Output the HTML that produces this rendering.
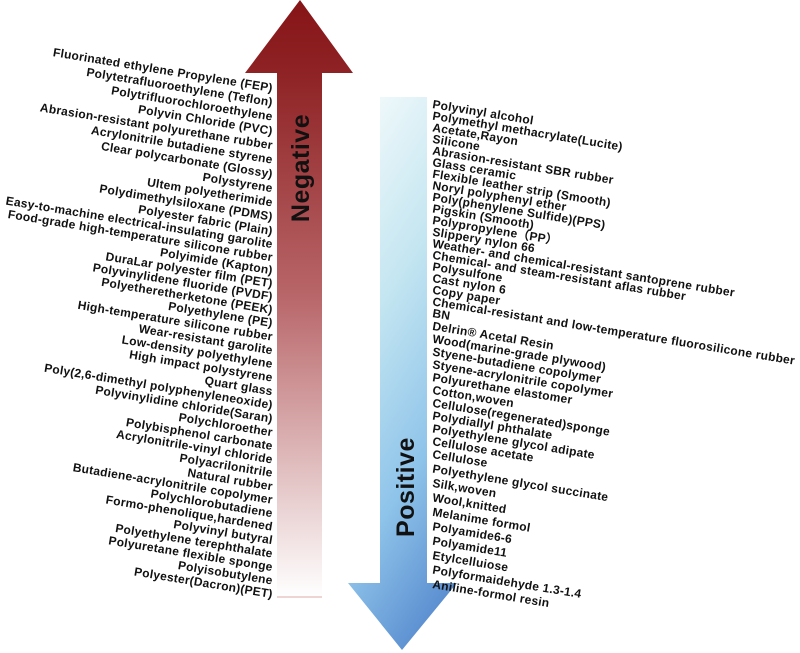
<!DOCTYPE html>
<html><head><meta charset="utf-8"><style>
html,body{margin:0;padding:0;background:#fff;width:800px;height:653px;overflow:hidden}
svg text{font-family:"Liberation Sans",Arial,sans-serif;font-weight:bold;font-size:12px;letter-spacing:0.25px;fill:#111}
</style></head><body>
<svg width="800" height="653" viewBox="0 0 800 653" xmlns="http://www.w3.org/2000/svg">
<defs>
<linearGradient id="rg" x1="0" y1="0" x2="0" y2="1">
<stop offset="0" stop-color="#861417"/>
<stop offset="0.12" stop-color="#8e2224"/>
<stop offset="0.5" stop-color="#b9676a"/>
<stop offset="0.8" stop-color="#e3c3c4"/>
<stop offset="1" stop-color="#ffffff"/>
</linearGradient>
<linearGradient id="bg" x1="0.3" y1="0" x2="0.6" y2="1">
<stop offset="0" stop-color="#eef8fa"/>
<stop offset="0.35" stop-color="#c3e5f1"/>
<stop offset="0.7" stop-color="#8fc4ea"/>
<stop offset="1" stop-color="#5a8ed0"/>
</linearGradient>
</defs>
<polygon points="300,0 353,73 322,73 322,597 277,597 277,73 245,73" fill="url(#rg)"/>
<line x1="277" y1="597" x2="322" y2="597" stroke="#eac6c6" stroke-width="1.5"/>
<polygon points="380,97 427,97 427,583 457,583 402,650 348,583 380,583" fill="url(#bg)"/>
<text transform="translate(309,168) rotate(-90)" text-anchor="middle" style="font-size:25px;letter-spacing:0.5px">Negative</text>
<text transform="translate(414,487) rotate(-90)" text-anchor="middle" style="font-size:25px;letter-spacing:0.5px">Positive</text>
<g id="L"></g>
<g id="R"></g>
</svg>
<script>
function interp(a,i){for(var k=0;k<a.length-1;k++){if(i<=a[k+1][0]){var t=(i-a[k][0])/(a[k+1][0]-a[k][0]);return a[k][1]+t*(a[k+1][1]-a[k][1]);}}return a[a.length-1][1];}
var L=["Fluorinated ethylene Propylene (FEP)","Polytetrafluoroethylene (Teflon)","Polytrifluorochloroethylene","Polyvin Chloride (PVC)","Abrasion-resistant polyurethane rubber","Acrylonitrile butadiene styrene","Clear polycarbonate (Glossy)","Polystyrene","Ultem polyetherimide","Polydimethylsiloxane (PDMS)","Polyester fabric (Plain)","Easy-to-machine electrical-insulating garolite","Food-grade high-temperature silicone rubber","Polyimide (Kapton)","DuraLar polyester film (PET)","Polyvinylidene fluoride (PVDF)","Polyetheretherketone (PEEK)","Polyethylene (PE)","High-temperature silicone rubber","Wear-resistant garolite","Low-density polyethylene","High impact polystyrene","Quart glass","Poly(2,6-dimethyl polyphenyleneoxide)","Polyvinylidine chloride(Saran)","Polychloroether","Polybisphenol carbonate","Acrylonitrile-vinyl chloride","Polyacrilonitrile","Natural rubber","Butadiene-acrylonitrile copolymer","Polychlorobutadiene","Formo-phenolique,hardened","Polyvinyl butyral","Polyethylene terephthalate","Polyuretane flexible sponge","Polyisobutylene","Polyester(Dacron)(PET)"];
var R=["Polyvinyl alcohol","Polymethyl methacrylate(Lucite)","Acetate,Rayon","Silicone","Abrasion-resistant SBR rubber","Glass ceramic","Flexible leather strip (Smooth)","Noryl polyphenyl ether","Poly(phenylene Sulfide)(PPS)","Pigskin (Smooth)","Polypropylene\uFF08PP\uFF09","Slippery nylon 66","Weather- and chemical-resistant santoprene rubber","Chemical- and steam-resistant aflas rubber","Polysulfone","Cast nylon 6","Copy paper","Chemical-resistant and low-temperature fluorosilicone rubber","BN","Delrin\u00AE Acetal Resin","Wood(marine-grade plywood)","Styene-butadiene copolymer","Styene-acrylonitrile copolymer","Polyurethane elastomer","Cotton,woven","Cellulose(regenerated)sponge","Polydiallyl phthalate","Polyethylene glycol adipate","Cellulose acetate","Cellulose","Polyethylene glycol succinate","Silk,woven","Wool,knitted","Melanime formol","Polyamide6-6","Polyamide11","Etylcelluiose","Polyformaidehyde 1.3-1.4","Aniline-formol resin"];
var NS="http://www.w3.org/2000/svg";
var la=[[0,92],[6,178],[10,235],[17,327],[26,450],[37,598]];
var gL=document.getElementById("L");
L.forEach(function(s,i){var y=interp(la,i);var x=272;var t=document.createElementNS(NS,"text");t.setAttribute("x",x);t.setAttribute("y",y);t.setAttribute("text-anchor","end");t.setAttribute("transform","rotate(9.3 "+x+" "+y+")");t.textContent=s;gL.appendChild(t);});
var ra=[[0,108],[15,282],[18,317],[29,458],[38,588]];
var gR=document.getElementById("R");
R.forEach(function(s,i){var y=interp(ra,i);var x=432;var t=document.createElementNS(NS,"text");t.setAttribute("x",x);t.setAttribute("y",y);t.setAttribute("transform","rotate(9.3 "+x+" "+y+")");t.textContent=s;gR.appendChild(t);});
</script>
</body></html>
